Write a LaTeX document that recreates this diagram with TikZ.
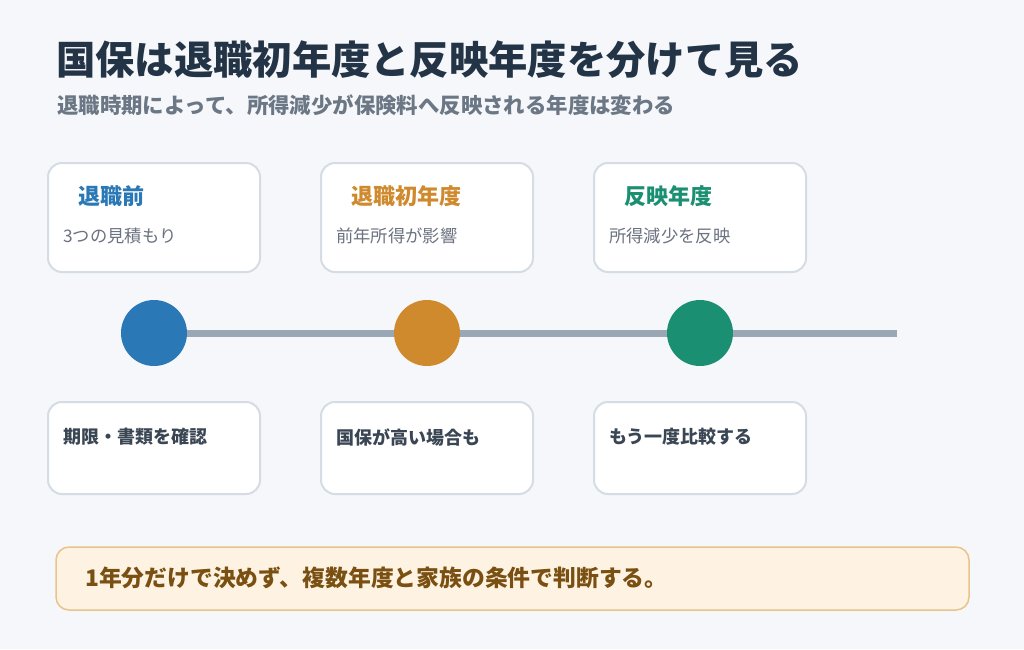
\documentclass[tikz,border=0pt]{standalone}
\usepackage{fontspec}
\setmainfont{Noto Sans CJK JP}
\definecolor{bg}{HTML}{F5F7FA}
\definecolor{titlec}{HTML}{243447}
\definecolor{subc}{HTML}{6B7785}
\definecolor{cardb}{HTML}{D5DCE4}
\definecolor{bluec}{HTML}{2A78B5}
\definecolor{orangec}{HTML}{D08A2E}
\definecolor{greenc}{HTML}{1B8F72}
\definecolor{linec}{HTML}{9AA8B5}
\definecolor{smallc}{HTML}{6B7280}
\definecolor{darkc}{HTML}{3A4654}
\definecolor{bannerf}{HTML}{FEF3E2}
\definecolor{bannerb}{HTML}{E8C48A}
\definecolor{bannert}{HTML}{7A4F12}
\tikzset{
  card/.style={draw=cardb, line width=2pt, fill=white, rounded corners=14pt},
  txt/.style={anchor=west, inner sep=0pt},
  dot/.style={circle, minimum size=66pt, inner sep=0pt},
}
\begin{document}
\begin{tikzpicture}[x=1pt,y=-1pt]
\fill[bg] (0,0) rectangle (1024,649);
\useasboundingbox (0,0) rectangle (1024,649);
% title
\node[txt, text=titlec, font=\fontsize{39.3}{41}\selectfont\bfseries] (title) at (56,60) {国保は退職初年度と反映年度を分けて見る};
\node[txt, text=subc, font=\fontsize{21.4}{23}\selectfont\bfseries] (sub) at (57,105) {退職時期によって、所得減少が保険料へ反映される年度は変わる};
% top cards
\foreach \i/\x/\t/\s/\c in {1/48/退職前/3つの見積もり/bluec, 2/321/退職初年度/前年所得が影響/orangec, 3/594/反映年度/所得減少を反映/greenc}{
  \draw[card] (\x,163) rectangle ++(212,109);
  \node[txt, text=\c, font=\fontsize{22}{24}\selectfont\bfseries] (ct\i) at (\x+30,196) {\t};
  \node[txt, text=smallc, font=\fontsize{17.3}{19}\selectfont] (cs\i) at (\x+15,236) {\s};
}
% timeline
\coordinate (lend) at (897,333);
\node[dot, fill=bluec] (d1) at (154,333) {};
\node[dot, fill=orangec] (d2) at (427,333) {};
\node[dot, fill=greenc] (d3) at (700,333) {};
\draw[linec, line width=7pt] (d1.east) -- (d2.west);
\draw[linec, line width=7pt] (d2.east) -- (d3.west);
\draw[linec, line width=7pt] (d3.east) -- (lend);
% bottom cards
\foreach \i/\x/\t in {1/48/期限・書類を確認, 2/321/国保が高い場合も, 3/594/もう一度比較する}{
  \draw[card] (\x,402) rectangle ++(212,92);
  \node[txt, text=darkc, font=\fontsize{18}{20}\selectfont\bfseries] (cb\i) at (\x+15,437) {\t};
}
% banner
\draw[draw=bannerb, line width=1.5pt, fill=bannerf, rounded corners=13pt] (56,547) rectangle (969,610);
\node[txt, text=bannert, font=\fontsize{22.8}{25}\selectfont\bfseries] (ban) at (85,578) {1年分だけで決めず、複数年度と家族の条件で判断する。};
\end{tikzpicture}
\end{document}
